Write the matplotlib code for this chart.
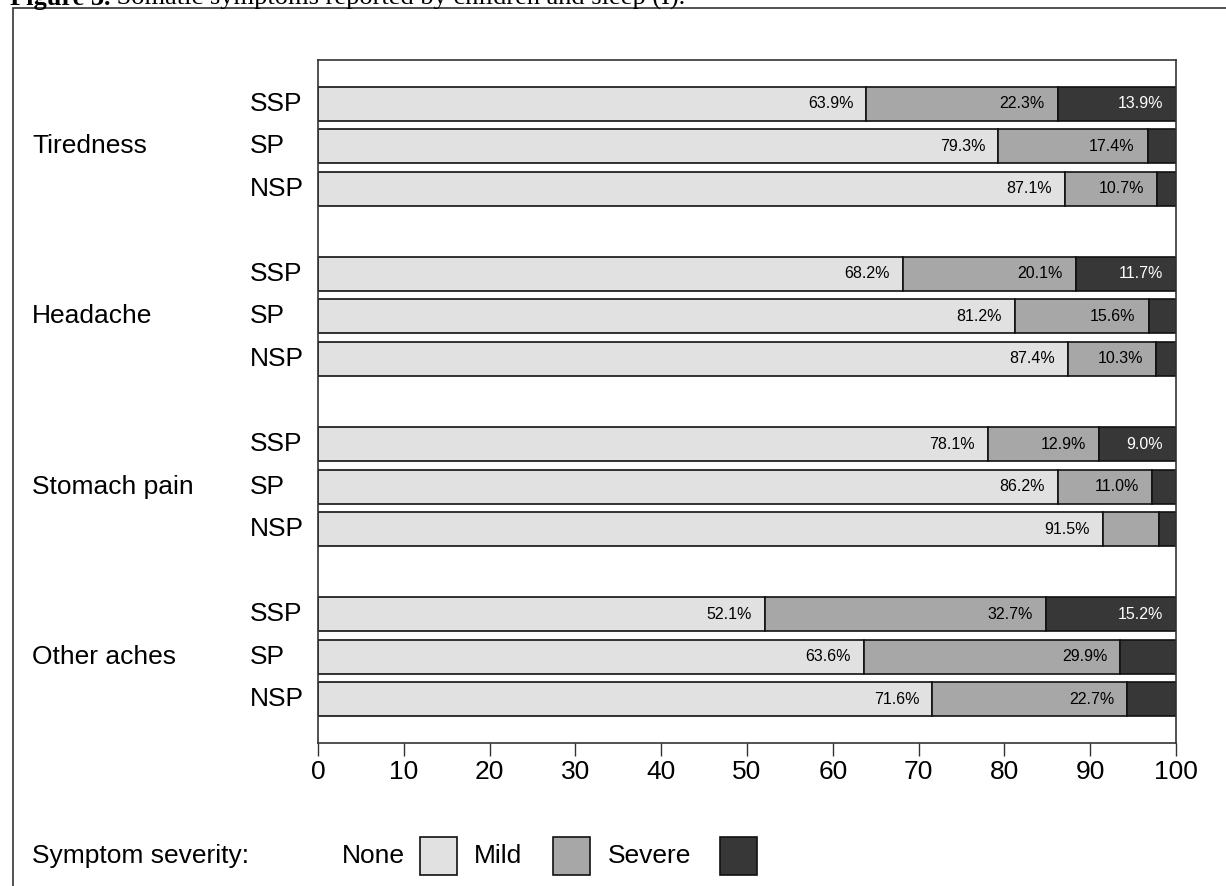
import numpy as np
import matplotlib
matplotlib.use('Agg')
import matplotlib.pyplot as plt
from matplotlib.patches import Rectangle
from matplotlib.transforms import blended_transform_factory, offset_copy

plt.rcParams['font.family'] = ['Liberation Sans', 'DejaVu Sans']

symptoms = ['Tiredness', 'Headache', 'Stomach pain', 'Other aches']
groups = ['SSP', 'SP', 'NSP']
severity = ['None', 'Mild', 'Severe']
colors = ['#e1e1e1', '#a7a7a7', '#373737']
text_colors = ['black', 'black', 'white']

# percentages per symptom, rows = SSP, SP, NSP
none_pct = [[63.9, 79.3, 87.1], [68.2, 81.2, 87.4], [78.1, 86.2, 91.5], [52.1, 63.6, 71.6]]
mild_pct = [[22.3, 17.4, 10.7], [20.1, 15.6, 10.3], [12.9, 11.0, 6.5], [32.7, 29.9, 22.7]]
severe_pct = [[13.9, 3.3, 2.2], [11.7, 3.2, 2.3], [9.0, 2.8, 2.0], [15.2, 6.5, 5.7]]

W, H = 1226, 886
fig = plt.figure(figsize=(W / 100, H / 100), dpi=100)
ax = fig.add_axes([318 / W, 1 - 743 / H, (1176 - 318) / W, (743 - 60) / H])

data = [np.array(none_pct), np.array(mild_pct), np.array(severe_pct)]
ypos = np.array([[4 * g + i for i in range(3)] for g in range(len(symptoms))])

left = np.zeros_like(data[0])
for k in range(3):
    vals = data[k]
    ax.barh(ypos.ravel(), vals.ravel(), left=left.ravel(), height=0.8,
            color=colors[k], edgecolor='#111111', linewidth=1.2, zorder=2)
    for g in range(len(symptoms)):
        for i in range(3):
            v = vals[g, i]
            if v >= 9:
                end = min(left[g, i] + v, 100)
                ax.annotate(f'{v:.1f}%', xy=(end, ypos[g, i]),
                            xytext=(-13, 0), textcoords='offset pixels',
                            ha='right', va='center', fontsize=11.5,
                            color=text_colors[k], zorder=3, annotation_clip=False)
    left = left + vals

ax.set_xlim(0, 100)
ax.set_ylim(ypos.max() + 1.035, -1.035)
ax.set_xticks(np.arange(0, 101, 10))
ax.set_yticks([])
ax.tick_params(axis='x', length=9, width=1, color='#333333', pad=3, labelsize=19)
for s in ax.spines.values():
    s.set_color('#333333')
    s.set_linewidth(1.2)

# row labels on the left
tr = blended_transform_factory(fig.transFigure, ax.transData)
for g, name in enumerate(symptoms):
    ax.text(32 / W, ypos[g, 1], name, transform=tr, ha='left', va='center', fontsize=19)
    for i, grp in enumerate(groups):
        ax.text(250 / W, ypos[g, i], grp, transform=tr, ha='left', va='center', fontsize=19)

# legend along the bottom
ly = 1 - 856 / H
fig.text(32 / W, ly, 'Symptom severity:', ha='left', va='center', fontsize=19)
label_right = [405, 522, 691]
box_left = [420, 553, 720]
for k in range(3):
    fig.text(label_right[k] / W, ly, severity[k], ha='right', va='center', fontsize=19)
    fig.add_artist(Rectangle((box_left[k] / W, 1 - 875 / H), 37 / W, 38 / H,
                             transform=fig.transFigure, facecolor=colors[k],
                             edgecolor='#111111', linewidth=1.2))

# caption and frame
fig.add_artist(Rectangle((12.5 / W, -0.1), 1.2, 1.1 - 8.3 / H, transform=fig.transFigure,
                         facecolor='none', edgecolor='#333333', linewidth=1.2))
bold = fig.text(10 / W, 1 - 5 / H, 'Figure 3.', ha='left', va='baseline', fontsize=19,
                family='Liberation Serif', weight='bold')
fig.canvas.draw()
bw = bold.get_window_extent().width
fig.text(10 / W, 1 - 5 / H, ' Somatic symptoms reported by children and sleep (I).',
         ha='left', va='baseline', fontsize=19, family='Liberation Serif',
         transform=offset_copy(fig.transFigure, fig=fig, x=bw, y=0, units='dots'))

fig.savefig('out.png', dpi=100)
